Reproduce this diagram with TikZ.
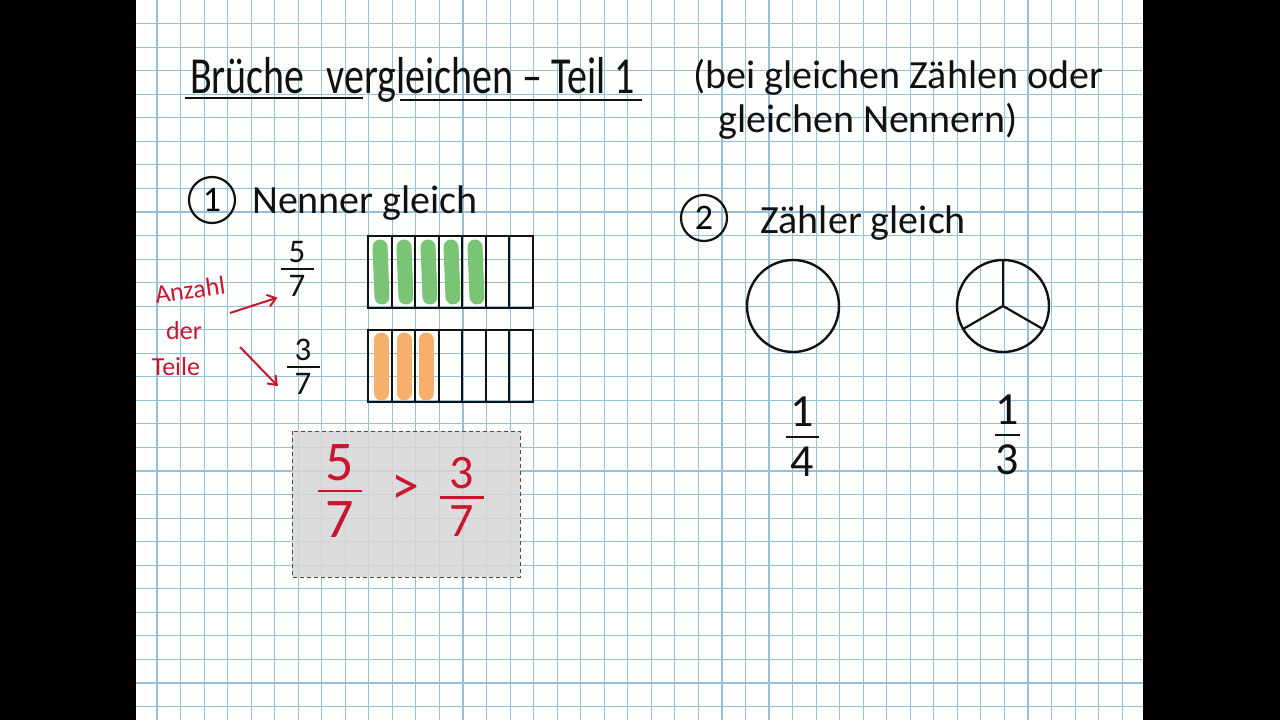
\documentclass[tikz,border=0pt]{standalone}
\usepackage{fontspec}
\setmainfont{Carlito}
\usepackage{graphicx}
\usepackage{tikz}
\usetikzlibrary{arrows.meta}

\definecolor{kaestchen}{RGB}{150,192,216}
\definecolor{stift}{RGB}{17,17,17}
\definecolor{rotstift}{RGB}{200,22,45}
\definecolor{gruenstift}{RGB}{122,196,118}
\definecolor{orangestift}{RGB}{246,176,108}

% Bruch: Strichbreite, Abstand, Zaehler, Nenner
\newcommand{\bruch}[4]{\shortstack{#3\\[#2]\rule{#1}{2.4pt}\\[#2]#4}}

\begin{document}
\begin{tikzpicture}[x=1pt, y=-1pt,
    gitter/.style={draw=kaestchen, line width=1.1pt},
    titel/.style={font=\fontsize{40}{46}\selectfont, text=stift, inner sep=0pt, anchor=base west},
    hand/.style={font=\fontsize{40}{44}\selectfont, text=stift, inner sep=0pt, anchor=base west},
    notiz/.style={font=\fontsize{26}{28}\selectfont, text=rotstift, inner sep=0pt},
    zahl/.style={circle, draw=stift, line width=2.2pt, minimum size=46pt, inner sep=0pt, font=\fontsize{36}{38}\selectfont},
    bruchnode/.style={inner sep=0pt, text=stift},
    kasten/.style={draw=stift, line width=2.4pt},
    teil/.style={draw=stift, line width=2pt},
    strich/.style={line width=15pt, line cap=round},
    pfeil/.style={-{Straight Barb[length=8pt, width=12pt]}, draw=rotstift, line width=2pt},
    torte/.style={circle, draw=stift, line width=2.4pt, minimum size=92pt, inner sep=0pt, outer sep=0pt},
    vergleich/.style={fill=black!16, fill opacity=0.85, draw=black!70, dash pattern=on 4pt off 3pt, line width=1pt}
]

% Rand und Papier
\fill[black] (0,0) rectangle (1280,720);
\fill[white] (136,0) rectangle (1143,720);
\useasboundingbox (0,0) rectangle (1280,720);

% Kaestchen
\foreach \i in {0,...,41}
    \draw[gitter] ({157+23.54*\i},0) -- ({157+23.54*\i},720);
\foreach \j in {1,...,30}
    \draw[gitter] (136,{23.55*\j}) -- (1143,{23.55*\j});

% Ueberschrift
\node[titel] (titel) at (190,93) {\scalebox{1}[1.3]{Brüche\hspace{22pt}vergleichen – Teil 1}};
\draw[stift, line width=2.6pt] (185,98) -- (363,98);
\draw[stift, line width=2.6pt] (400,100) -- (642,100);

\node[hand] (zusatz1) at (693,88) {(bei gleichen Zählen oder};
\node[hand] (zusatz2) at (718,132) {gleichen Nennern)};

% Teil 1: Nenner gleich
\node[zahl] (eins) at (212,200) {1};
\node[hand] (nenner) at (252,213) {Nenner gleich};

\node[bruchnode, font=\fontsize{33}{36}\selectfont] (bruchA) at (297,269) {\bruch{33pt}{2pt}{5}{7}};
\node[bruchnode, font=\fontsize{33}{36}\selectfont] (bruchB) at (303,367) {\bruch{33pt}{2pt}{3}{7}};

% Streifen
\foreach \x in {380,404,428,451,475}
    \draw[strich, gruenstift] (\x,247) -- ({\x+2},297);
\foreach \x in {381,404,426}
    \draw[strich, orangestift] (\x,340) -- (\x,393);

\draw[kasten] (368,236) rectangle (533,308);
\foreach \k in {1,...,6}
    \draw[teil] ({368+23.57*\k},236) -- ({368+23.57*\k},308);
\draw[kasten] (368,330) rectangle (533,402);
\foreach \k in {1,...,6}
    \draw[teil] ({368+23.57*\k},330) -- ({368+23.57*\k},402);

% Anzahl der Teile
\node[notiz, rotate=8] (anzahl) at (190,290) {Anzahl};
\node[notiz] (der) at (184,331) {der};
\node[notiz] (teile) at (176,367) {Teile};

\coordinate (startA) at (230,313);
\coordinate (startB) at (240,347);
\draw[pfeil, shorten >=3pt] (startA) -- (bruchA.south west);
\draw[pfeil, shorten >=12pt] (startB) -- (bruchB.south west);

% Vergleich
\draw[vergleich] (292,431) rectangle (520,577);
\node[bruchnode, text=rotstift, font=\fontsize{56}{60}\selectfont] (rotA) at (340,491) {\bruch{44pt}{6pt}{5}{7}};
\node[bruchnode, text=rotstift, font=\fontsize{56}{60}\selectfont] (groesser) at (405,490) {>};
\node[bruchnode, text=rotstift, font=\fontsize{48}{52}\selectfont] (rotB) at (462,497) {\bruch{44pt}{4pt}{3}{7}};

% Teil 2: Zaehler gleich
\node[zahl] (zwei) at (704,218) {2};
\node[hand] (zaehler) at (760,233) {Zähler gleich};

\node[torte] (ganz) at (793,306) {};
\node[torte] (drittel) at (1003,306) {};
\draw[teil, line width=2.2pt] (drittel.center) -- (drittel.90);
\draw[teil, line width=2.2pt] (drittel.center) -- (drittel.210);
\draw[teil, line width=2.2pt] (drittel.center) -- (drittel.330);

\node[bruchnode, font=\fontsize{46}{50}\selectfont] (viertel) at (802,437) {\bruch{33pt}{6pt}{1}{4}};
\node[bruchnode, font=\fontsize{46}{50}\selectfont] (eindrittel) at (1007,435) {\bruch{25pt}{6pt}{1}{3}};

\end{tikzpicture}
\end{document}
